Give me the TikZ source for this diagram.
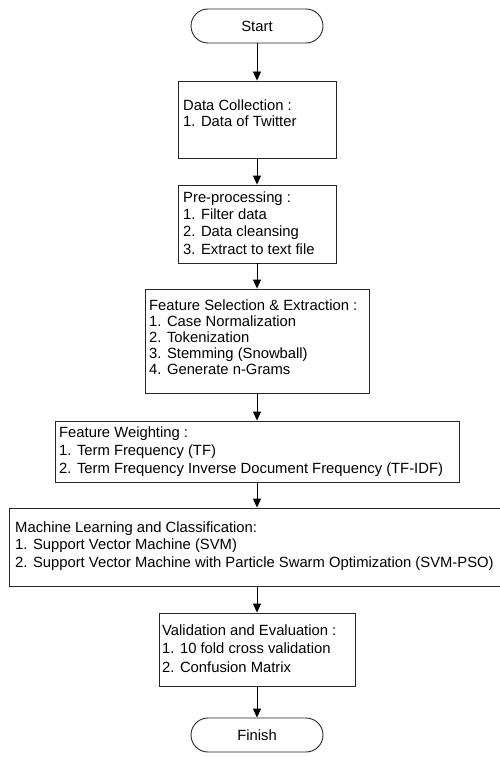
\documentclass[tikz,border=0pt]{standalone}
\usepackage{fontspec}
\setmainfont{Liberation Sans}
\usetikzlibrary{arrows.meta}
\begin{document}
\begin{tikzpicture}[x=1pt,y=-1pt,
  box/.style={draw=black!85,line width=0.9pt,rectangle,inner sep=0pt},
  term/.style={draw=black!85,line width=0.9pt,rectangle,rounded corners=17pt,
    minimum width=132pt,minimum height=34pt,inner sep=0pt,font=\fontsize{14.8}{17.5}\selectfont},
  txt/.style={anchor=north west,align=left,inner sep=0pt,font=\fontsize{14.8}{#1}\selectfont},
  arr/.style={draw=black,line width=0.9pt,-{Triangle[length=9pt,width=8pt]}}]
\useasboundingbox (0,0) rectangle (500,757);

\node[term] (start) at (257,26) {Start};
\node[box,minimum width=158pt,minimum height=77pt] (dc) at (257,119.5) {};
\node[box,minimum width=158pt,minimum height=78pt] (pp) at (257,224) {};
\node[box,minimum width=224pt,minimum height=104pt] (fs) at (257,341) {};
\node[box,minimum width=404pt,minimum height=61pt] (fw) at (257,451.5) {};
\node[box,minimum width=496pt,minimum height=78pt] (ml) at (257,547) {};
\node[box,minimum width=196pt,minimum height=73pt] (ve) at (257,649.5) {};
\node[term] (finish) at (257,735) {Finish};

\node[txt=16] (dct) at (183,98.8) {\strut Data Collection :\\1. Data of Twitter};
\node[txt=17.3] (ppt) at (183,189.9) {\strut Pre-processing :\\1. Filter data\\2. Data cleansing\\3. Extract to text file};
\node[txt=16] (fst) at (149,298.8) {\strut Feature Selection \& Extraction :\\1. Case Normalization\\2. Tokenization\\3. Stemming (Snowball)\\4. Generate n-Grams};
\node[txt=18] (fwt) at (59,424.4) {\strut Feature Weighting :\\1. Term Frequency (TF)\\2. Term Frequency Inverse Document Frequency (TF-IDF)};
\node[txt=17.5] (mlt) at (15,519.75) {\strut Machine Learning and Classification:\\1. Support Vector Machine (SVM)\\2. Support Vector Machine with Particle Swarm Optimization (SVM-PSO)};
\node[txt=18.5] (vet) at (162,622.05) {\strut Validation and Evaluation :\\1. 10 fold cross validation\\2. Confusion Matrix};

\draw[arr] (start) -- (dc);
\draw[arr] (dc) -- (pp);
\draw[arr] (pp) -- (fs);
\draw[arr] (fs) -- (fw);
\draw[arr] (fw) -- (ml);
\draw[arr] (ml) -- (ve);
\draw[arr] (ve) -- (finish);
\end{tikzpicture}
\end{document}
